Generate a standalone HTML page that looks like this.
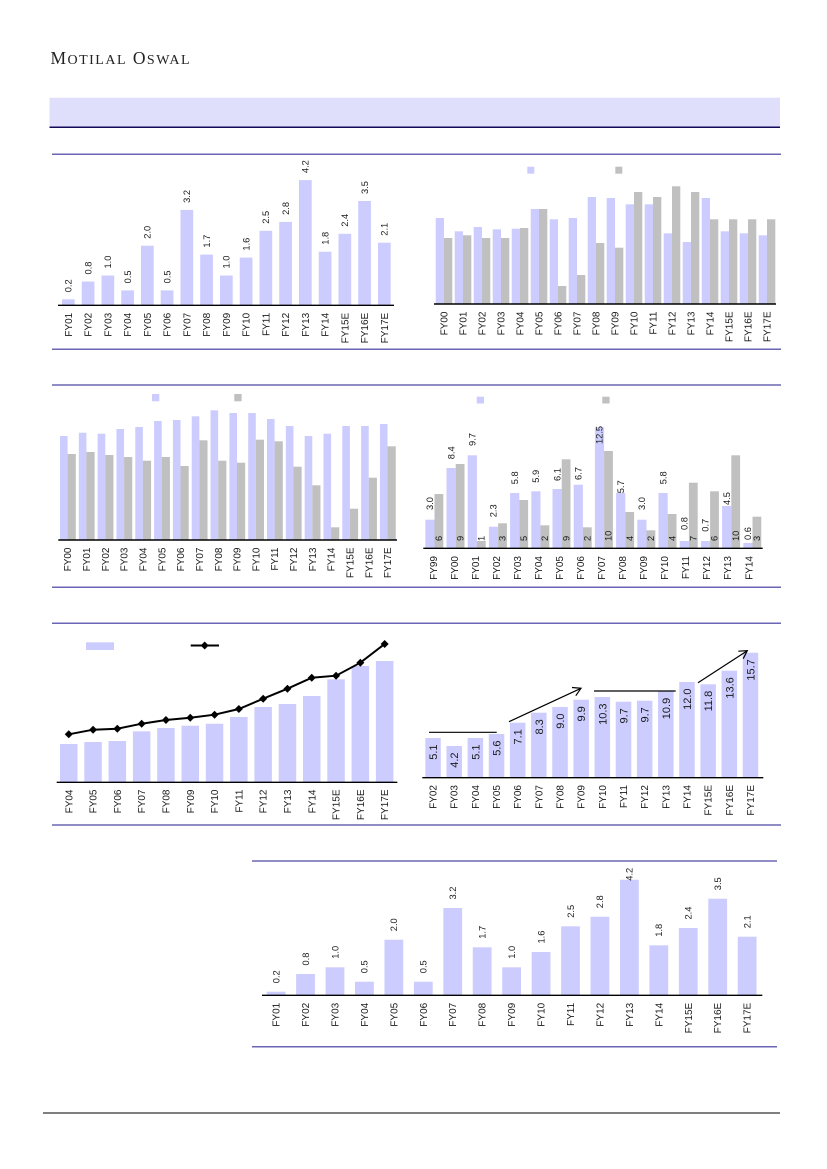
<!DOCTYPE html>
<html><head><meta charset="utf-8"><style>
html,body{margin:0;padding:0;background:#fff;}
svg{display:block;}
text{font-family:"Liberation Sans",sans-serif;fill:#1a1a1a;}
.v{font-size:9.3px;}
.x{font-size:10px;}
.w{font-size:11px;}
.L{fill:#ccccff;}
.G{fill:#c0c0c0;}
.sec{stroke:#6a66b4;stroke-width:1.5;}
.ax{stroke:#000;stroke-width:1.4;}
</style></head><body>
<svg width="827" height="1169" viewBox="0 0 827 1169" xmlns="http://www.w3.org/2000/svg">
<rect width="827" height="1169" fill="#fff"/>
<!-- header -->
<text x="50.5" y="64" style="font-family:'Liberation Serif',serif;font-size:17.5px;fill:#222" textLength="139" lengthAdjust="spacing">M<tspan style="font-size:14px">OTILAL</tspan> O<tspan style="font-size:14px">SWAL</tspan></text>
<rect x="49.5" y="97.7" width="730.5" height="29.3" fill="#dfdffc"/>
<line x1="49.5" y1="127.3" x2="780" y2="127.3" stroke="#14085a" stroke-width="1.5"/>

<!-- section lines -->
<line class="sec" x1="52" y1="154.3" x2="781" y2="154.3"/>
<line class="sec" x1="52" y1="349.3" x2="781" y2="349.3"/>
<line class="sec" x1="52" y1="385" x2="781" y2="385"/>
<line class="sec" x1="52" y1="587.3" x2="781" y2="587.3"/>
<line class="sec" x1="52" y1="623.3" x2="781" y2="623.3"/>
<line class="sec" x1="52" y1="825" x2="781" y2="825"/>
<line class="sec" x1="252" y1="861" x2="777" y2="861"/>
<line class="sec" x1="252" y1="1046.7" x2="777" y2="1046.7"/>
<line x1="43" y1="1113" x2="780" y2="1113" stroke="#555" stroke-width="1.5"/>

<!-- CHART 1 -->
<g class="L">
<rect x="62" y="299.3" width="12.7" height="6"/>
<rect x="81.75" y="281.5" width="12.7" height="23.8"/>
<rect x="101.5" y="275.5" width="12.7" height="29.8"/>
<rect x="121.25" y="290.4" width="12.7" height="14.9"/>
<rect x="141" y="245.7" width="12.7" height="59.6"/>
<rect x="160.75" y="290.4" width="12.7" height="14.9"/>
<rect x="180.5" y="209.9" width="12.7" height="95.4"/>
<rect x="200.25" y="254.6" width="12.7" height="50.7"/>
<rect x="220" y="275.5" width="12.7" height="29.8"/>
<rect x="239.75" y="257.6" width="12.7" height="47.7"/>
<rect x="259.5" y="230.8" width="12.7" height="74.5"/>
<rect x="279.25" y="221.9" width="12.7" height="83.4"/>
<rect x="299" y="180.1" width="12.7" height="125.2"/>
<rect x="318.75" y="251.7" width="12.7" height="53.6"/>
<rect x="338.5" y="233.8" width="12.7" height="71.5"/>
<rect x="358.25" y="201" width="12.7" height="104.3"/>
<rect x="378" y="242.7" width="12.7" height="62.6"/>
</g>
<line class="ax" x1="58" y1="305.3" x2="394" y2="305.3"/>
<g class="v">
<text transform="translate(71.55,292.3) rotate(-90)">0.2</text>
<text transform="translate(91.3,274.5) rotate(-90)">0.8</text>
<text transform="translate(111.05,268.5) rotate(-90)">1.0</text>
<text transform="translate(130.8,283.4) rotate(-90)">0.5</text>
<text transform="translate(150.55,238.7) rotate(-90)">2.0</text>
<text transform="translate(170.3,283.4) rotate(-90)">0.5</text>
<text transform="translate(190.05,202.9) rotate(-90)">3.2</text>
<text transform="translate(209.8,247.6) rotate(-90)">1.7</text>
<text transform="translate(229.55,268.5) rotate(-90)">1.0</text>
<text transform="translate(249.3,250.6) rotate(-90)">1.6</text>
<text transform="translate(269.05,223.8) rotate(-90)">2.5</text>
<text transform="translate(288.8,214.9) rotate(-90)">2.8</text>
<text transform="translate(308.55,173.1) rotate(-90)">4.2</text>
<text transform="translate(328.3,244.7) rotate(-90)">1.8</text>
<text transform="translate(348.05,226.8) rotate(-90)">2.4</text>
<text transform="translate(367.8,194) rotate(-90)">3.5</text>
<text transform="translate(387.55,235.7) rotate(-90)">2.1</text>
</g>
<g class="x" text-anchor="end">
<text transform="translate(71.85,312.8) rotate(-90)">FY01</text>
<text transform="translate(91.6,312.8) rotate(-90)">FY02</text>
<text transform="translate(111.35,312.8) rotate(-90)">FY03</text>
<text transform="translate(131.1,312.8) rotate(-90)">FY04</text>
<text transform="translate(150.85,312.8) rotate(-90)">FY05</text>
<text transform="translate(170.6,312.8) rotate(-90)">FY06</text>
<text transform="translate(190.35,312.8) rotate(-90)">FY07</text>
<text transform="translate(210.1,312.8) rotate(-90)">FY08</text>
<text transform="translate(229.85,312.8) rotate(-90)">FY09</text>
<text transform="translate(249.6,312.8) rotate(-90)">FY10</text>
<text transform="translate(269.35,312.8) rotate(-90)">FY11</text>
<text transform="translate(289.1,312.8) rotate(-90)">FY12</text>
<text transform="translate(308.85,312.8) rotate(-90)">FY13</text>
<text transform="translate(328.6,312.8) rotate(-90)">FY14</text>
<text transform="translate(348.35,312.8) rotate(-90)">FY15E</text>
<text transform="translate(368.1,312.8) rotate(-90)">FY16E</text>
<text transform="translate(387.85,312.8) rotate(-90)">FY17E</text>
</g>

<!-- CHART 2 -->
<rect class="L" x="527.3" y="166.7" width="7" height="7"/>
<rect class="G" x="615.3" y="166.7" width="7" height="7"/>
<g class="L">
<rect x="435.7" y="218" width="8.3" height="86"/>
<rect x="454.7" y="231.3" width="8.3" height="72.7"/>
<rect x="473.7" y="227" width="8.3" height="77"/>
<rect x="492.7" y="229.3" width="8.3" height="74.7"/>
<rect x="511.7" y="228.7" width="8.3" height="75.3"/>
<rect x="530.7" y="209" width="8.3" height="95"/>
<rect x="549.7" y="219.3" width="8.3" height="84.7"/>
<rect x="568.7" y="218" width="8.3" height="86"/>
<rect x="587.7" y="197" width="8.3" height="107"/>
<rect x="606.7" y="198" width="8.3" height="106"/>
<rect x="625.7" y="204.3" width="8.3" height="99.7"/>
<rect x="644.7" y="204.3" width="8.3" height="99.7"/>
<rect x="663.7" y="233.3" width="8.3" height="70.7"/>
<rect x="682.7" y="242" width="8.3" height="62"/>
<rect x="701.7" y="198" width="8.3" height="106"/>
<rect x="720.7" y="231.3" width="8.3" height="72.7"/>
<rect x="739.7" y="233.3" width="8.3" height="70.7"/>
<rect x="758.7" y="235.3" width="8.3" height="68.7"/>
</g>
<g class="G">
<rect x="444" y="238" width="8.3" height="66"/>
<rect x="463" y="235.3" width="8.3" height="68.7"/>
<rect x="482" y="238" width="8.3" height="66"/>
<rect x="501" y="238" width="8.3" height="66"/>
<rect x="520" y="228" width="8.3" height="76"/>
<rect x="539" y="209" width="8.3" height="95"/>
<rect x="558" y="286" width="8.3" height="18"/>
<rect x="577" y="275" width="8.3" height="29"/>
<rect x="596" y="243" width="8.3" height="61"/>
<rect x="615" y="247.7" width="8.3" height="56.3"/>
<rect x="634" y="192" width="8.3" height="112"/>
<rect x="653" y="197" width="8.3" height="107"/>
<rect x="672" y="186.3" width="8.3" height="117.7"/>
<rect x="691" y="192" width="8.3" height="112"/>
<rect x="710" y="219.3" width="8.3" height="84.7"/>
<rect x="729" y="219.3" width="8.3" height="84.7"/>
<rect x="748" y="219.3" width="8.3" height="84.7"/>
<rect x="767" y="219.3" width="8.3" height="84.7"/>
</g>
<line class="ax" x1="434" y1="304" x2="776" y2="304"/>
<g class="x" text-anchor="end">
<text transform="translate(447.5,311.5) rotate(-90)">FY00</text>
<text transform="translate(466.5,311.5) rotate(-90)">FY01</text>
<text transform="translate(485.5,311.5) rotate(-90)">FY02</text>
<text transform="translate(504.5,311.5) rotate(-90)">FY03</text>
<text transform="translate(523.5,311.5) rotate(-90)">FY04</text>
<text transform="translate(542.5,311.5) rotate(-90)">FY05</text>
<text transform="translate(561.5,311.5) rotate(-90)">FY06</text>
<text transform="translate(580.5,311.5) rotate(-90)">FY07</text>
<text transform="translate(599.5,311.5) rotate(-90)">FY08</text>
<text transform="translate(618.5,311.5) rotate(-90)">FY09</text>
<text transform="translate(637.5,311.5) rotate(-90)">FY10</text>
<text transform="translate(656.5,311.5) rotate(-90)">FY11</text>
<text transform="translate(675.5,311.5) rotate(-90)">FY12</text>
<text transform="translate(694.5,311.5) rotate(-90)">FY13</text>
<text transform="translate(713.5,311.5) rotate(-90)">FY14</text>
<text transform="translate(732.5,311.5) rotate(-90)">FY15E</text>
<text transform="translate(751.5,311.5) rotate(-90)">FY16E</text>
<text transform="translate(770.5,311.5) rotate(-90)">FY17E</text>
</g>

<!-- CHART 3 -->
<rect class="L" x="152" y="394" width="7.3" height="7.3"/>
<rect class="G" x="234.3" y="394" width="7.3" height="7.3"/>
<g class="L">
<rect x="60" y="436" width="7.6" height="104"/>
<rect x="78.82" y="432.7" width="7.6" height="107.3"/>
<rect x="97.64" y="433.7" width="7.6" height="106.3"/>
<rect x="116.46" y="429" width="7.6" height="111"/>
<rect x="135.28" y="427" width="7.6" height="113"/>
<rect x="154.1" y="421" width="7.6" height="119"/>
<rect x="172.92" y="420" width="7.6" height="120"/>
<rect x="191.74" y="416.3" width="7.6" height="123.7"/>
<rect x="210.56" y="410.3" width="7.6" height="129.7"/>
<rect x="229.38" y="413" width="7.6" height="127"/>
<rect x="248.2" y="413" width="7.6" height="127"/>
<rect x="267.02" y="419" width="7.6" height="121"/>
<rect x="285.84" y="426" width="7.6" height="114"/>
<rect x="304.66" y="436" width="7.6" height="104"/>
<rect x="323.48" y="433.7" width="7.6" height="106.3"/>
<rect x="342.3" y="426" width="7.6" height="114"/>
<rect x="361.12" y="426" width="7.6" height="114"/>
<rect x="379.94" y="424" width="7.6" height="116"/>
</g>
<g class="G">
<rect x="67.6" y="454" width="8.2" height="86"/>
<rect x="86.42" y="452" width="8.2" height="88"/>
<rect x="105.24" y="455" width="8.2" height="85"/>
<rect x="124.06" y="457" width="8.2" height="83"/>
<rect x="142.88" y="460.7" width="8.2" height="79.3"/>
<rect x="161.7" y="457" width="8.2" height="83"/>
<rect x="180.52" y="466" width="8.2" height="74"/>
<rect x="199.34" y="440.3" width="8.2" height="99.7"/>
<rect x="218.16" y="460.7" width="8.2" height="79.3"/>
<rect x="236.98" y="462.7" width="8.2" height="77.3"/>
<rect x="255.8" y="439.7" width="8.2" height="100.3"/>
<rect x="274.62" y="441.3" width="8.2" height="98.7"/>
<rect x="293.44" y="466.7" width="8.2" height="73.3"/>
<rect x="312.26" y="485.3" width="8.2" height="54.7"/>
<rect x="331.08" y="527.3" width="8.2" height="12.7"/>
<rect x="349.9" y="508.7" width="8.2" height="31.3"/>
<rect x="368.72" y="477.7" width="8.2" height="62.3"/>
<rect x="387.54" y="446.3" width="8.2" height="93.7"/>
</g>
<line class="ax" x1="58.3" y1="540" x2="397" y2="540"/>
<g class="x" text-anchor="end">
<text transform="translate(71.2,547.5) rotate(-90)">FY00</text>
<text transform="translate(90.02,547.5) rotate(-90)">FY01</text>
<text transform="translate(108.84,547.5) rotate(-90)">FY02</text>
<text transform="translate(127.66,547.5) rotate(-90)">FY03</text>
<text transform="translate(146.48,547.5) rotate(-90)">FY04</text>
<text transform="translate(165.3,547.5) rotate(-90)">FY05</text>
<text transform="translate(184.12,547.5) rotate(-90)">FY06</text>
<text transform="translate(202.94,547.5) rotate(-90)">FY07</text>
<text transform="translate(221.76,547.5) rotate(-90)">FY08</text>
<text transform="translate(240.58,547.5) rotate(-90)">FY09</text>
<text transform="translate(259.4,547.5) rotate(-90)">FY10</text>
<text transform="translate(278.22,547.5) rotate(-90)">FY11</text>
<text transform="translate(297.04,547.5) rotate(-90)">FY12</text>
<text transform="translate(315.86,547.5) rotate(-90)">FY13</text>
<text transform="translate(334.68,547.5) rotate(-90)">FY14</text>
<text transform="translate(353.5,547.5) rotate(-90)">FY15E</text>
<text transform="translate(372.32,547.5) rotate(-90)">FY16E</text>
<text transform="translate(391.14,547.5) rotate(-90)">FY17E</text>
</g>

<!-- CHART 4 -->
<rect class="L" x="476.7" y="396.7" width="7.3" height="6.8"/>
<rect class="G" x="602.3" y="396.7" width="7.3" height="6.8"/>
<g class="L">
<rect x="425.3" y="519.7" width="9.2" height="28.6"/>
<rect x="446.5" y="468" width="9.2" height="80.3"/>
<rect x="467.7" y="455.3" width="9.2" height="93"/>
<rect x="488.9" y="526.7" width="9.2" height="21.6"/>
<rect x="510.1" y="493" width="9.2" height="55.3"/>
<rect x="531.3" y="491.3" width="9.2" height="57"/>
<rect x="552.5" y="489" width="9.2" height="59.3"/>
<rect x="573.7" y="484.7" width="9.2" height="63.6"/>
<rect x="594.9" y="427.3" width="9.2" height="121"/>
<rect x="616.1" y="493" width="9.2" height="55.3"/>
<rect x="637.3" y="519.7" width="9.2" height="28.6"/>
<rect x="658.5" y="493" width="9.2" height="55.3"/>
<rect x="679.7" y="541" width="9.2" height="7.3"/>
<rect x="700.9" y="541" width="9.2" height="7.3"/>
<rect x="722.1" y="506" width="9.2" height="42.3"/>
<rect x="743.3" y="543" width="9.2" height="5.3"/>
</g>
<g class="G">
<rect x="434.5" y="494" width="8.8" height="54.3"/>
<rect x="455.7" y="464" width="8.8" height="84.3"/>
<rect x="476.9" y="541" width="8.8" height="7.3"/>
<rect x="498.1" y="523.3" width="8.8" height="25"/>
<rect x="519.3" y="500" width="8.8" height="48.3"/>
<rect x="540.5" y="525.3" width="8.8" height="23"/>
<rect x="561.7" y="459.3" width="8.8" height="89"/>
<rect x="582.9" y="527.3" width="8.8" height="21"/>
<rect x="604.1" y="451" width="8.8" height="97.3"/>
<rect x="625.3" y="512" width="8.8" height="36.3"/>
<rect x="646.5" y="530.3" width="8.8" height="18"/>
<rect x="667.7" y="514" width="8.8" height="34.3"/>
<rect x="688.9" y="482.7" width="8.8" height="65.6"/>
<rect x="710.1" y="491.3" width="8.8" height="57"/>
<rect x="731.3" y="455.3" width="8.8" height="93"/>
<rect x="752.5" y="516.7" width="8.8" height="31.6"/>
</g>
<line class="ax" x1="423.3" y1="548.3" x2="762.7" y2="548.3"/>
<g class="v">
<text transform="translate(433.1,510) rotate(-90)">3.0</text>
<text transform="translate(454.3,459.3) rotate(-90)">8.4</text>
<text transform="translate(475.5,446) rotate(-90)">9.7</text>
<text transform="translate(496.7,517.3) rotate(-90)">2.3</text>
<text transform="translate(517.9,484.3) rotate(-90)">5.8</text>
<text transform="translate(539.1,482.7) rotate(-90)">5.9</text>
<text transform="translate(560.3,481) rotate(-90)">6.1</text>
<text transform="translate(581.5,480) rotate(-90)">6.7</text>
<text transform="translate(602.7,444) rotate(-90)">12.5</text>
<text transform="translate(623.9,493.3) rotate(-90)">5.7</text>
<text transform="translate(645.1,510) rotate(-90)">3.0</text>
<text transform="translate(666.3,484.3) rotate(-90)">5.8</text>
<text transform="translate(687.5,530) rotate(-90)">0.8</text>
<text transform="translate(708.7,531.7) rotate(-90)">0.7</text>
<text transform="translate(729.9,505) rotate(-90)">4.5</text>
<text transform="translate(751.1,540) rotate(-90)">0.6</text>
<text transform="translate(442.1,541) rotate(-90)">6</text>
<text transform="translate(463.3,541) rotate(-90)">9</text>
<text transform="translate(484.5,541) rotate(-90)">1</text>
<text transform="translate(505.7,541) rotate(-90)">3</text>
<text transform="translate(526.9,541) rotate(-90)">5</text>
<text transform="translate(548.1,541) rotate(-90)">2</text>
<text transform="translate(569.3,541) rotate(-90)">9</text>
<text transform="translate(590.5,541) rotate(-90)">2</text>
<text transform="translate(611.7,541) rotate(-90)">10</text>
<text transform="translate(632.9,541) rotate(-90)">4</text>
<text transform="translate(654.1,541) rotate(-90)">2</text>
<text transform="translate(675.3,541) rotate(-90)">4</text>
<text transform="translate(696.5,541) rotate(-90)">7</text>
<text transform="translate(717.7,541) rotate(-90)">6</text>
<text transform="translate(738.9,541) rotate(-90)">10</text>
<text transform="translate(760.1,541) rotate(-90)">3</text>
</g>
<g class="x" text-anchor="end">
<text transform="translate(436.8,556) rotate(-90)">FY99</text>
<text transform="translate(457.8,556) rotate(-90)">FY00</text>
<text transform="translate(478.9,556) rotate(-90)">FY01</text>
<text transform="translate(499.9,556) rotate(-90)">FY02</text>
<text transform="translate(520.9,556) rotate(-90)">FY03</text>
<text transform="translate(542,556) rotate(-90)">FY04</text>
<text transform="translate(563,556) rotate(-90)">FY05</text>
<text transform="translate(584,556) rotate(-90)">FY06</text>
<text transform="translate(605,556) rotate(-90)">FY07</text>
<text transform="translate(626.1,556) rotate(-90)">FY08</text>
<text transform="translate(647.1,556) rotate(-90)">FY09</text>
<text transform="translate(668.1,556) rotate(-90)">FY10</text>
<text transform="translate(689.2,556) rotate(-90)">FY11</text>
<text transform="translate(710.2,556) rotate(-90)">FY12</text>
<text transform="translate(731.2,556) rotate(-90)">FY13</text>
<text transform="translate(752.3,556) rotate(-90)">FY14</text>
</g>

<!-- CHART 5 -->
<rect class="L" x="86" y="642.3" width="28" height="7.7"/>
<line x1="190.7" y1="645.5" x2="219" y2="645.5" stroke="#000" stroke-width="2"/>
<polygon points="204.7,641.5 208.7,645.5 204.7,649.5 200.7,645.5" fill="#000"/>
<g class="L">
<rect x="60" y="744" width="17.5" height="38.3"/>
<rect x="84.3" y="742" width="17.5" height="40.3"/>
<rect x="108.6" y="741" width="17.5" height="41.3"/>
<rect x="132.9" y="731.3" width="17.5" height="51"/>
<rect x="157.2" y="728" width="17.5" height="54.3"/>
<rect x="181.5" y="725.7" width="17.5" height="56.6"/>
<rect x="205.8" y="723.7" width="17.5" height="58.6"/>
<rect x="230.1" y="717" width="17.5" height="65.3"/>
<rect x="254.4" y="707" width="17.5" height="75.3"/>
<rect x="278.7" y="704" width="17.5" height="78.3"/>
<rect x="303" y="696" width="17.5" height="86.3"/>
<rect x="327.3" y="679.3" width="17.5" height="103"/>
<rect x="351.6" y="666" width="17.5" height="116.3"/>
<rect x="375.9" y="661" width="17.5" height="121.3"/>
</g>
<line class="ax" x1="56.7" y1="782.3" x2="397.3" y2="782.3"/>
<polyline fill="none" stroke="#000" stroke-width="2" points="68.75,734.3 93.05,729.7 117.35,728.7 141.65,723.7 165.95,720 190.25,717.7 214.55,714.7 238.85,709 263.15,698.7 287.45,688.7 311.75,677.7 336.05,675.7 360.35,662.7 384.65,644"/>
<g fill="#000">
<polygon points="68.75,730.3 72.75,734.3 68.75,738.3 64.75,734.3"/>
<polygon points="93.05,725.7 97.05,729.7 93.05,733.7 89.05,729.7"/>
<polygon points="117.35,724.7 121.35,728.7 117.35,732.7 113.35,728.7"/>
<polygon points="141.65,719.7 145.65,723.7 141.65,727.7 137.65,723.7"/>
<polygon points="165.95,716 169.95,720 165.95,724 161.95,720"/>
<polygon points="190.25,713.7 194.25,717.7 190.25,721.7 186.25,717.7"/>
<polygon points="214.55,710.7 218.55,714.7 214.55,718.7 210.55,714.7"/>
<polygon points="238.85,705 242.85,709 238.85,713 234.85,709"/>
<polygon points="263.15,694.7 267.15,698.7 263.15,702.7 259.15,698.7"/>
<polygon points="287.45,684.7 291.45,688.7 287.45,692.7 283.45,688.7"/>
<polygon points="311.75,673.7 315.75,677.7 311.75,681.7 307.75,677.7"/>
<polygon points="336.05,671.7 340.05,675.7 336.05,679.7 332.05,675.7"/>
<polygon points="360.35,658.7 364.35,662.7 360.35,666.7 356.35,662.7"/>
<polygon points="384.65,640 388.65,644 384.65,648 380.65,644"/>
</g>
<g class="x" text-anchor="end">
<text transform="translate(72.25,789.5) rotate(-90)">FY04</text>
<text transform="translate(96.55,789.5) rotate(-90)">FY05</text>
<text transform="translate(120.85,789.5) rotate(-90)">FY06</text>
<text transform="translate(145.15,789.5) rotate(-90)">FY07</text>
<text transform="translate(169.45,789.5) rotate(-90)">FY08</text>
<text transform="translate(193.75,789.5) rotate(-90)">FY09</text>
<text transform="translate(218.05,789.5) rotate(-90)">FY10</text>
<text transform="translate(242.35,789.5) rotate(-90)">FY11</text>
<text transform="translate(266.65,789.5) rotate(-90)">FY12</text>
<text transform="translate(290.95,789.5) rotate(-90)">FY13</text>
<text transform="translate(315.25,789.5) rotate(-90)">FY14</text>
<text transform="translate(339.55,789.5) rotate(-90)">FY15E</text>
<text transform="translate(363.85,789.5) rotate(-90)">FY16E</text>
<text transform="translate(388.15,789.5) rotate(-90)">FY17E</text>
</g>

<!-- CHART 6 -->
<g class="L">
<rect x="425.3" y="738" width="15.5" height="39.7"/>
<rect x="446.46" y="746" width="15.5" height="31.7"/>
<rect x="467.62" y="738" width="15.5" height="39.7"/>
<rect x="488.78" y="734" width="15.5" height="43.7"/>
<rect x="509.94" y="722.7" width="15.5" height="55"/>
<rect x="531.1" y="712.7" width="15.5" height="65"/>
<rect x="552.26" y="707" width="15.5" height="70.7"/>
<rect x="573.42" y="699.7" width="15.5" height="78"/>
<rect x="594.58" y="697" width="15.5" height="80.7"/>
<rect x="615.74" y="701.7" width="15.5" height="76"/>
<rect x="636.9" y="700.7" width="15.5" height="77"/>
<rect x="658.06" y="691.3" width="15.5" height="86.4"/>
<rect x="679.22" y="682" width="15.5" height="95.7"/>
<rect x="700.38" y="684.3" width="15.5" height="93.4"/>
<rect x="721.54" y="670.7" width="15.5" height="107"/>
<rect x="742.7" y="652.7" width="15.5" height="125"/>
</g>
<line class="ax" x1="422.3" y1="777.7" x2="763.3" y2="777.7"/>
<g class="w" text-anchor="end">
<text transform="translate(437.05,744.5) rotate(-90)">5.1</text>
<text transform="translate(458.21,752.5) rotate(-90)">4.2</text>
<text transform="translate(479.37,744.5) rotate(-90)">5.1</text>
<text transform="translate(500.53,740.5) rotate(-90)">5.6</text>
<text transform="translate(521.69,729.2) rotate(-90)">7.1</text>
<text transform="translate(542.85,719.2) rotate(-90)">8.3</text>
<text transform="translate(564.01,713.5) rotate(-90)">9.0</text>
<text transform="translate(585.17,706.2) rotate(-90)">9.9</text>
<text transform="translate(606.33,703.5) rotate(-90)">10.3</text>
<text transform="translate(627.49,708.2) rotate(-90)">9.7</text>
<text transform="translate(648.65,707.2) rotate(-90)">9.7</text>
<text transform="translate(669.81,697.8) rotate(-90)">10.9</text>
<text transform="translate(690.97,688.5) rotate(-90)">12.0</text>
<text transform="translate(712.13,690.8) rotate(-90)">11.8</text>
<text transform="translate(733.29,677.2) rotate(-90)">13.6</text>
<text transform="translate(754.45,659.2) rotate(-90)">15.7</text>
</g>
<g stroke="#000" stroke-width="1.2" fill="none">
<line x1="429" y1="732.3" x2="496.7" y2="732.3"/>
<line x1="509" y1="721.7" x2="581" y2="688.3"/>
<polyline points="572,687.5 581,688.3 575.8,695.7"/>
<line x1="594" y1="691" x2="675.7" y2="691"/>
<line x1="698" y1="682.7" x2="747.3" y2="650.7"/>
<polyline points="738.3,651.2 747.3,650.7 743.2,658.7"/>
</g>
<g class="x" text-anchor="end">
<text transform="translate(436.55,785) rotate(-90)">FY02</text>
<text transform="translate(457.71,785) rotate(-90)">FY03</text>
<text transform="translate(478.87,785) rotate(-90)">FY04</text>
<text transform="translate(500.03,785) rotate(-90)">FY05</text>
<text transform="translate(521.19,785) rotate(-90)">FY06</text>
<text transform="translate(542.35,785) rotate(-90)">FY07</text>
<text transform="translate(563.51,785) rotate(-90)">FY08</text>
<text transform="translate(584.67,785) rotate(-90)">FY09</text>
<text transform="translate(605.83,785) rotate(-90)">FY10</text>
<text transform="translate(626.99,785) rotate(-90)">FY11</text>
<text transform="translate(648.15,785) rotate(-90)">FY12</text>
<text transform="translate(669.31,785) rotate(-90)">FY13</text>
<text transform="translate(690.47,785) rotate(-90)">FY14</text>
<text transform="translate(711.63,785) rotate(-90)">FY15E</text>
<text transform="translate(732.79,785) rotate(-90)">FY16E</text>
<text transform="translate(753.95,785) rotate(-90)">FY17E</text>
</g>

<!-- CHART 7 -->
<g class="L">
<rect x="266.7" y="991.7" width="18.8" height="3.6"/>
<rect x="296.14" y="974" width="18.8" height="21.3"/>
<rect x="325.58" y="967.3" width="18.8" height="28"/>
<rect x="355.02" y="981.7" width="18.8" height="13.6"/>
<rect x="384.46" y="939.7" width="18.8" height="55.6"/>
<rect x="413.9" y="981.7" width="18.8" height="13.6"/>
<rect x="443.34" y="908" width="18.8" height="87.3"/>
<rect x="472.78" y="947.3" width="18.8" height="48"/>
<rect x="502.22" y="967.3" width="18.8" height="28"/>
<rect x="531.66" y="952" width="18.8" height="43.3"/>
<rect x="561.1" y="926.3" width="18.8" height="69"/>
<rect x="590.54" y="916.7" width="18.8" height="78.6"/>
<rect x="619.98" y="879.7" width="18.8" height="115.6"/>
<rect x="649.42" y="945.3" width="18.8" height="50"/>
<rect x="678.86" y="928" width="18.8" height="67.3"/>
<rect x="708.3" y="898.7" width="18.8" height="96.6"/>
<rect x="737.74" y="936.7" width="18.8" height="58.6"/>
</g>
<line class="ax" x1="262" y1="995.3" x2="762.3" y2="995.3"/>
<g class="v">
<text transform="translate(279.4,983.2) rotate(-90)">0.2</text>
<text transform="translate(308.84,965.5) rotate(-90)">0.8</text>
<text transform="translate(338.28,958.8) rotate(-90)">1.0</text>
<text transform="translate(367.72,973.2) rotate(-90)">0.5</text>
<text transform="translate(397.16,931.2) rotate(-90)">2.0</text>
<text transform="translate(426.6,973.2) rotate(-90)">0.5</text>
<text transform="translate(456.04,899.5) rotate(-90)">3.2</text>
<text transform="translate(485.48,938.8) rotate(-90)">1.7</text>
<text transform="translate(514.92,958.8) rotate(-90)">1.0</text>
<text transform="translate(544.36,943.5) rotate(-90)">1.6</text>
<text transform="translate(573.8,917.8) rotate(-90)">2.5</text>
<text transform="translate(603.24,908.2) rotate(-90)">2.8</text>
<text transform="translate(632.68,880.7) rotate(-90)">4.2</text>
<text transform="translate(662.12,936.8) rotate(-90)">1.8</text>
<text transform="translate(691.56,919.5) rotate(-90)">2.4</text>
<text transform="translate(721,890.2) rotate(-90)">3.5</text>
<text transform="translate(750.44,928.2) rotate(-90)">2.1</text>
</g>
<g class="x" text-anchor="end">
<text transform="translate(279.6,1002.8) rotate(-90)">FY01</text>
<text transform="translate(309.04,1002.8) rotate(-90)">FY02</text>
<text transform="translate(338.48,1002.8) rotate(-90)">FY03</text>
<text transform="translate(367.92,1002.8) rotate(-90)">FY04</text>
<text transform="translate(397.36,1002.8) rotate(-90)">FY05</text>
<text transform="translate(426.8,1002.8) rotate(-90)">FY06</text>
<text transform="translate(456.24,1002.8) rotate(-90)">FY07</text>
<text transform="translate(485.68,1002.8) rotate(-90)">FY08</text>
<text transform="translate(515.12,1002.8) rotate(-90)">FY09</text>
<text transform="translate(544.56,1002.8) rotate(-90)">FY10</text>
<text transform="translate(574,1002.8) rotate(-90)">FY11</text>
<text transform="translate(603.44,1002.8) rotate(-90)">FY12</text>
<text transform="translate(632.88,1002.8) rotate(-90)">FY13</text>
<text transform="translate(662.32,1002.8) rotate(-90)">FY14</text>
<text transform="translate(691.76,1002.8) rotate(-90)">FY15E</text>
<text transform="translate(721.2,1002.8) rotate(-90)">FY16E</text>
<text transform="translate(750.64,1002.8) rotate(-90)">FY17E</text>
</g>
</svg>
</body></html>
